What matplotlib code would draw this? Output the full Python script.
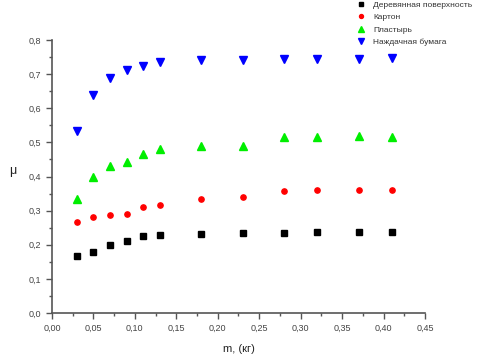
import matplotlib.pyplot as plt
from matplotlib.ticker import MultipleLocator

plt.rcParams['font.family'] = ['Liberation Sans', 'DejaVu Sans']

# ---- data ----
mass = [0.03, 0.05, 0.07, 0.09, 0.11, 0.13, 0.18, 0.23, 0.28, 0.32, 0.37, 0.41]
wood = [0.168, 0.180, 0.200, 0.212, 0.226, 0.229, 0.232, 0.235, 0.235, 0.237, 0.237, 0.237]
cardboard = [0.267, 0.281, 0.287, 0.290, 0.310, 0.317, 0.335, 0.340, 0.358, 0.361, 0.361, 0.362]
plaster = [0.334, 0.400, 0.430, 0.443, 0.465, 0.480, 0.490, 0.490, 0.515, 0.516, 0.520, 0.516]
sandpaper = [0.533, 0.640, 0.688, 0.712, 0.725, 0.737, 0.742, 0.742, 0.743, 0.745, 0.744, 0.747]

labels = ['Деревянная поверхность', 'Картон', 'Пластырь', 'Наждачная бумага']

fig = plt.figure(figsize=(4.97, 3.64), dpi=100)
ax = fig.add_axes([0.1046, 0.140, 0.7505, 0.750])

# one marker style per surface
ax.plot(mass, wood, 's', color='black', markersize=4.2, label=labels[0])
ax.plot(mass, cardboard, 'o', color='red', markersize=3.8, label=labels[1])
ax.plot(mass, plaster, '^', color='#00ee00', markersize=6, label=labels[2])
ax.plot(mass, sandpaper, 'v', color='blue', markersize=6, label=labels[3])

ax.set_xlim(0, 0.45)
ax.set_ylim(0, 0.8)

# ---- axis styling ----
ax.spines['top'].set_visible(False)
ax.spines['right'].set_visible(False)
for s in ('left', 'bottom'):
    ax.spines[s].set_color('#555555')
    ax.spines[s].set_linewidth(1.2)

ax.xaxis.set_major_locator(MultipleLocator(0.05))
ax.xaxis.set_minor_locator(MultipleLocator(0.025))
ax.yaxis.set_major_locator(MultipleLocator(0.1))
ax.yaxis.set_minor_locator(MultipleLocator(0.05))

comma = lambda fmt: (lambda v, p: (fmt % v).replace('.', ','))
ax.xaxis.set_major_formatter(plt.FuncFormatter(comma('%.2f')))
ax.yaxis.set_major_formatter(plt.FuncFormatter(comma('%.1f')))

ax.tick_params(which='major', direction='out', length=4, width=1, color='#555555',
               labelsize=6.5, labelcolor='#444444')
ax.tick_params(which='minor', direction='out', length=2.5, width=1, color='#555555')

ax.set_xlabel('m, (кг)', fontsize=8, color='#222222', labelpad=8)
ax.set_ylabel('μ', fontsize=9, color='#222222', rotation=0, labelpad=12)

leg = ax.legend(loc='upper left', bbox_to_anchor=(0.805, 1.155), frameon=False,
                fontsize=6, handlelength=1.2, handletextpad=0.9, markerscale=0.75,
                labelspacing=0.55, borderaxespad=0)
for t in leg.get_texts():
    t.set_color('#333333')

fig.savefig('out.png', dpi=100, facecolor='white')
